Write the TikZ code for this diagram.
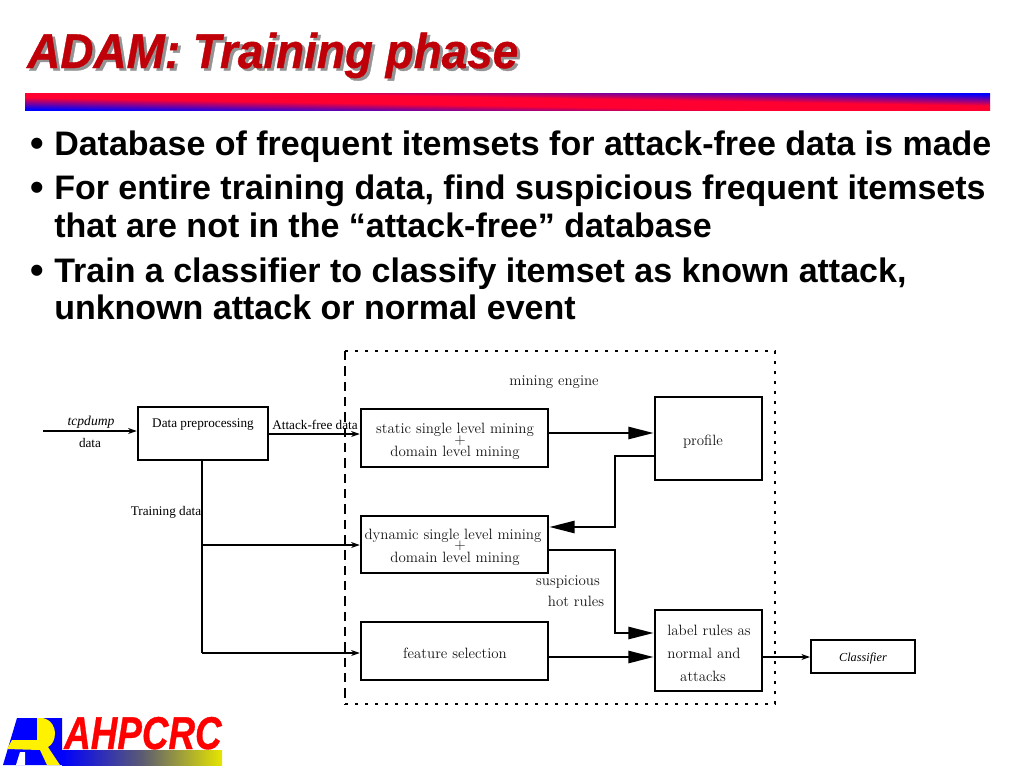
\documentclass[tikz,border=0pt]{standalone}
\usepackage{fontspec}
\newfontfamily\arialf{Liberation Sans}
\newfontfamily\heavyf[BoldItalicFeatures={FakeBold=0.8}]{Liberation Sans}
\newfontfamily\timesf{Liberation Serif}
\usetikzlibrary{arrows.meta,calc}
\definecolor{titlered}{HTML}{C00008}
\definecolor{difftext}{HTML}{141414}
\definecolor{rulered}{HTML}{FF0030}
\pgfdeclareverticalshading{rulefill}{100bp}{color(0bp)=(blue); color(40.5bp)=(blue); color(47.5bp)=(rulered); color(52.5bp)=(rulered); color(59.5bp)=(blue); color(100bp)=(blue)}
\tikzset{
  px/.style={x=0.75pt,y=-0.75pt},
  titletext/.style={anchor=base west,inner sep=0,xscale=0.94,transform shape,font=\heavyf\bfseries\itshape\fontsize{36.6}{38}\selectfont},
  bodytext/.style={anchor=base west,inner sep=0,text=black,font=\arialf\bfseries\fontsize{25.5}{28}\selectfont},
  bulletmark/.style={anchor=base west,inner sep=0,text=black,font=\arialf\bfseries\fontsize{29}{30}\selectfont},
  blockbox/.style={draw=black,line width=1.9pt,fill=white,inner sep=0,minimum width=#1},
  minetext/.style={inner sep=0,text=difftext,font=\fontsize{11.2}{12}\selectfont},
  handtext/.style={inner sep=0,text=black,font=\timesf\fontsize{9.9}{11}\selectfont},
  handitalic/.style={inner sep=0,text=black,font=\timesf\itshape\fontsize{#1}{11}\selectfont},
  thinline/.style={draw=black,line width=0.85pt},
  thickline/.style={draw=black,line width=1.9pt},
  smallhead/.style={-{Stealth[length=6.5pt,width=4.5pt]}},
  bighead/.style={-{Triangle[length=19pt,width=9pt]}},
}
\begin{document}
\begin{tikzpicture}[px]
\useasboundingbox (0,0) rectangle (1024,768);
\fill[white] (0,0) rectangle (1024,768);
% title
\node[titletext,text=black!42] (titleshadow) at (30,70.5) {ADAM: Training phase};
\node[titletext,text=titlered] (title) at (27,68) {ADAM: Training phase};
% gradient rule
\begin{scope}
  \clip (25,93) rectangle (990,110);
  \begin{scope}[transform canvas={rotate around={-1.0:(507.5,101.5)}}]
    \shade[shading=rulefill] (-50,60) rectangle (1070,143);
  \end{scope}
\end{scope}
% bullets
\node[bulletmark] (b1) at (30,156) {•};
\node[bodytext] (t1) at (54,155) {Database of frequent itemsets for attack-free data is made};
\node[bulletmark] (b2) at (30,200) {•};
\node[bodytext] (t2) at (54,199) {For entire training data, find suspicious frequent itemsets};
\node[bodytext] (t2b) at (54,237) {that are not in the “attack-free” database};
\node[bulletmark] (b3) at (30,283) {•};
\node[bodytext] (t3) at (54,282) {Train a classifier to classify itemset as known attack,};
\node[bodytext] (t3b) at (54,319) {unknown attack or normal event};
% mining engine frame
\draw[line width=2.2pt,dash pattern=on 7pt off 4.5pt] (345,351) -- (345,704);
\draw[line width=2.2pt,dash pattern=on 2.5pt off 5pt] (345,351) -- (775,351) -- (775,704) -- (345,704);
% rails
\coordinate (railTcp) at (0,431);
\coordinate (railFree) at (0,434);
\coordinate (railStat) at (0,433);
\coordinate (railProfA) at (0,456);
\coordinate (railProfB) at (0,527);
\coordinate (railDynA) at (0,550);
\coordinate (railDynB) at (0,633);
\coordinate (railFeat) at (0,657);
\coordinate (railTrA) at (0,545);
\coordinate (railTrB) at (0,653);
\coordinate (colProf) at (615,0);
\coordinate (colTrain) at (202,0);
\coordinate (inStart) at (43,431);
% boxes
\node[blockbox=130*0.75pt,minimum height=39.75pt] (prep) at (203,433.5) {};
\node[blockbox=187*0.75pt,minimum height=43.5pt] (static) at (454.5,438) {};
\node[blockbox=107*0.75pt,minimum height=62.25pt] (profile) at (708.5,438.5) {};
\node[blockbox=187*0.75pt,minimum height=42.75pt] (dynamic) at (454.5,544.5) {};
\node[blockbox=187*0.75pt,minimum height=43.5pt] (feature) at (454.5,651) {};
\node[blockbox=107*0.75pt,minimum height=60.75pt] (labelbox) at (708.5,650.5) {};
\node[blockbox=104*0.75pt,minimum height=24.75pt,line width=1.5pt] (classifier) at (863,656.5) {};
% connectors
\draw[thinline,smallhead] (inStart) -- (prep.west |- railTcp);
\draw[thinline,smallhead] (prep.east |- railFree) -- (static.west |- railFree);
\draw[thinline] (prep.south -| colTrain) -- (colTrain |- railTrB);
\draw[thinline,smallhead] (colTrain |- railTrB) -- (feature.west |- railTrB);
\draw[thinline,smallhead] (colTrain |- railTrA) -- (dynamic.west |- railTrA);
\draw[thickline,bighead] (static.east |- railStat) -- (profile.west |- railStat);
\draw[thickline,bighead] (profile.west |- railProfA) -- (colProf |- railProfA) -- (colProf |- railProfB) -- (dynamic.east |- railProfB);
\draw[thickline,bighead] (dynamic.east |- railDynA) -- (colProf |- railDynA) -- (colProf |- railDynB) -- (labelbox.west |- railDynB);
\draw[thickline,bighead] (feature.east |- railFeat) -- (labelbox.west |- railFeat);
\draw[thinline,smallhead] (labelbox.east |- railFeat) -- (classifier.west |- railFeat);
\draw[thickline] (labelbox.east |- railFeat) -- ++(15,0);
% labels
\node[handitalic=10.2] (ltcp) at (91,422.5) {tcpdump};
\node[handtext] (ldata) at (90,443) {data};
\node[handtext] (lprep) at (203,425) {Data preprocessing};
\node[handtext] (lfree) at (315,425) {Attack-free data};
\node[handtext] (ltrain) at (166,512) {Training data};
\node[handitalic=9.2] (lclass) at (863,658) {Classifier};
\node[minetext] (lengine) at (554,382) {mining engine};
\node[minetext] (s1) at (455,430) {static single level mining};
\node[minetext] (s2) at (460,441) {+};
\node[minetext] (s3) at (455,453) {domain level mining};
\node[minetext] (d1) at (453,536) {dynamic single level mining};
\node[minetext] (d2) at (460,546) {+};
\node[minetext] (d3) at (455,558.5) {domain level mining};
\node[minetext] (lfeat) at (455,653) {feature selection};
\node[minetext] (lprof) at (703,442) {profile};
\node[minetext] (l1) at (709,630) {label rules as};
\node[minetext] (l2) at (704,653) {normal and};
\node[minetext] (l3) at (703,676) {attacks};
\node[minetext] (h1) at (568,582) {suspicious};
\node[minetext] (h2) at (576,601) {hot rules};
% logo
\shade[left color=blue,right color=yellow!90!black,middle color=black!35!yellow!55!blue] (62,750) rectangle (222,765);
\fill[blue] (3,765) -- (17,718) -- (62,718) -- (62,765) -- cycle;
\fill[white] (20,752) -- (25,752) -- (25,765) -- (16,765) -- cycle;
\fill[yellow] (7,749) -- (12,740) -- (37,740) -- (37,718) -- (43,718) .. controls (52,720) and (55,728) .. (55,733) .. controls (55,740) and (52,745) .. (48,747) -- (60,765) -- (47,765) -- (40,750) -- cycle;
\node[anchor=base west,inner sep=0,text=red,xscale=0.8,transform shape,font=\heavyf\bfseries\itshape\fontsize{34.5}{36}\selectfont] (logotext) at (64,749) {AHPCRC};
\end{tikzpicture}
\end{document}
